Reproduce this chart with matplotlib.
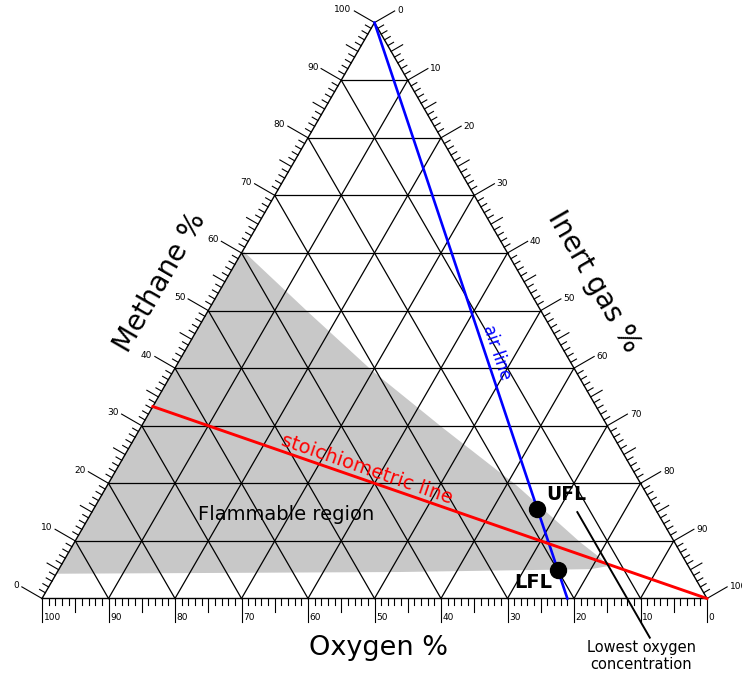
import numpy as np
import matplotlib.pyplot as plt

# Methane / oxygen / inert flammability diagram (all values in mol %)
flam_methane = [60.4, 49.7, 39.6, 29.6, 19.6, 9.8, 7.0, 5.6, 5.1, 4.6, 4.3]
flam_oxygen = [39.6, 35.1, 30.6, 24.9, 18.8, 14.2, 12.5, 12.2, 14.9, 43.9, 95.7]

air_methane = [100, 0]
air_oxygen = [0, 21]

stoich_methane = [100 / 3, 0]
stoich_oxygen = [200 / 3, 0]

limit_names = ['UFL', 'LFL']
limit_methane = [15.5, 5.0]
limit_oxygen = [0.21 * (100 - m) for m in limit_methane]

loc_oxygen = 12
loc_methane = [15, -6.8]

grid_values = np.arange(10, 100, 10)
tick_values = np.arange(0, 101)

SQ3 = np.sqrt(3) / 2
PX = 6.65  # pixels per percent at dpi 100


def to_xy(methane, oxygen):
    m = np.asarray(methane, dtype=float)
    o = np.asarray(oxygen, dtype=float)
    inert = 100 - m - o
    return inert + m / 2, m * SQ3


def pix(px, py):
    # figure pixel position -> data coordinates
    return (px - 42) / PX, (598.5 - py) / PX


fig = plt.figure(figsize=(7.42, 6.77), dpi=100)
ax = fig.add_axes([0, 0, 1, 1])
ax.set_xlim(-42 / PX, 700 / PX)
ax.set_ylim(-78.5 / PX, 598.5 / PX)
ax.axis('off')

# flammable region
fx, fy = to_xy(flam_methane, flam_oxygen)
ax.fill(fx, fy, color='#c8c8c8', lw=0, zorder=1)

# grid lines in the three directions
for v in grid_values:
    for m, o in [([v, v], [100 - v, 0]),
                 ([0, 100 - v], [v, v]),
                 ([0, 100 - v], [100 - v, 0])]:
        gx, gy = to_xy(m, o)
        ax.plot(gx, gy, color='black', lw=0.9, zorder=2)

tx, ty = to_xy([0, 0, 100, 0], [100, 0, 0, 100])
ax.plot(tx, ty, color='black', lw=1.0, zorder=3, solid_joinstyle='miter')

# ticks and tick labels
for k in tick_values:
    L = 3.5 if k % 10 == 0 else (2.0 if k % 5 == 0 else 1.0)
    # oxygen (bottom)
    bx, by = to_xy(0, 100 - k)
    ax.plot([bx, bx], [by, by - L], color='black', lw=0.8, zorder=3)
    # methane (left)
    lx, ly = to_xy(k, 100 - k)
    ax.plot([lx, lx - SQ3 * L], [ly, ly + 0.5 * L], color='black', lw=0.8, zorder=3)
    # inert (right)
    rx, ry = to_xy(100 - k, 0)
    ax.plot([rx, rx + SQ3 * L], [ry, ry + 0.5 * L], color='black', lw=0.8, zorder=3)
    if k % 10 == 0:
        ax.text(bx + 0.25, by - 2.9, str(100 - k), fontsize=6.5, ha='left', va='center')
        ax.text(lx - SQ3 * L - 0.4, ly + 0.5 * L + 0.2, str(k), fontsize=6.5,
                ha='right', va='center')
        ax.text(rx + SQ3 * L + 0.35, ry + 0.5 * L, str(k), fontsize=6.5,
                ha='left', va='center')

# air line and stoichiometric line
ax_, ay_ = to_xy(air_methane, air_oxygen)
ax.plot(ax_, ay_, color='#0000ff', lw=1.9, zorder=4)
sx, sy = to_xy(stoich_methane, stoich_oxygen)
ax.plot(sx, sy, color='#ff0000', lw=2.1, zorder=4)

air_ang = np.degrees(np.arctan2(ay_[1] - ay_[0], ax_[1] - ax_[0]))
st_ang = np.degrees(np.arctan2(sy[1] - sy[0], sx[1] - sx[0]))
ax.text(*pix(497, 352), 'air line', color='#0000ff', fontsize=12,
        rotation=air_ang, rotation_mode='anchor', ha='center', va='center', zorder=5)
ax.text(*pix(367, 469), 'stoichiometric line', color='#ff0000', fontsize=14,
        rotation=st_ang, rotation_mode='anchor', ha='center', va='center', zorder=5)

# flammability limits in air
ux, uy = to_xy(limit_methane, limit_oxygen)
ax.plot(ux, uy, 'o', color='black', ms=11.5, zorder=6)
ax.text(*pix(566, 494), limit_names[0], fontsize=13.5, fontweight='bold',
        ha='center', va='center')
ax.text(*pix(533, 582), limit_names[1], fontsize=14, fontweight='bold',
        ha='center', va='center')

# limiting oxygen concentration pointer
lx_, ly_ = to_xy(loc_methane, [loc_oxygen, loc_oxygen])
ax.plot(lx_, ly_, color='black', lw=1.4, zorder=5)
ax.text(*pix(641, 656), 'Lowest oxygen\nconcentration',
        fontsize=10.5, ha='center', va='center', linespacing=1.2)

ax.text(*pix(286, 514), 'Flammable region', fontsize=14,
        ha='center', va='center', zorder=5)

# axis titles
ax.text(*pix(378, 648), 'Oxygen %', fontsize=19.5, ha='center', va='center')
ax.text(*pix(160, 282), 'Methane %', fontsize=20,
        rotation=60, rotation_mode='anchor', ha='center', va='center')
ax.text(*pix(594, 282), 'Inert gas %', fontsize=20,
        rotation=-60, rotation_mode='anchor', ha='center', va='center')

fig.savefig('out.png', dpi=100)
